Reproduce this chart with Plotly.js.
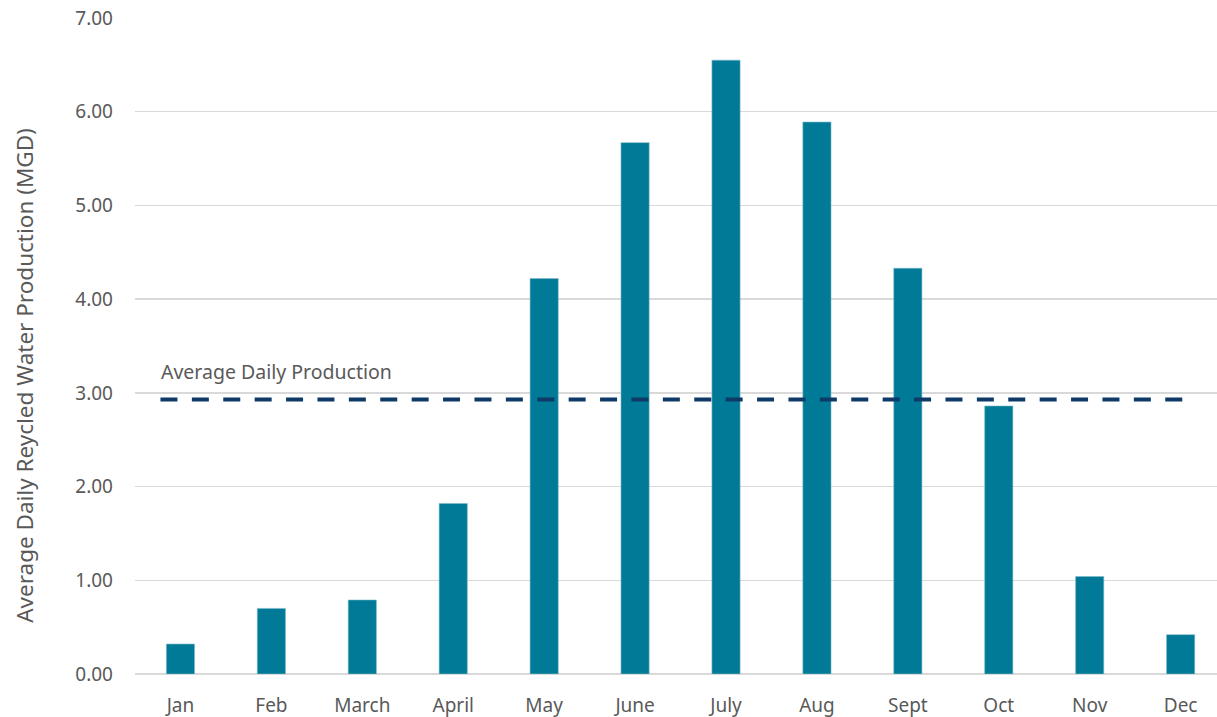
<!DOCTYPE html>
<html>
<head>
<meta charset="utf-8">
<script src="https://cdn.plot.ly/plotly-3.0.1.min.js"></script>
<style>
  html, body { margin: 0; padding: 0; background: #ffffff; }
  #chart { width: 1217px; height: 717px; }
</style>
</head>
<body>
<div id="chart"></div>
<script>
// Monthly average daily recycled water production (MGD)
const months = ["Jan", "Feb", "March", "April", "May", "June", "July", "Aug", "Sept", "Oct", "Nov", "Dec"];
const production = [0.32, 0.70, 0.79, 1.82, 4.22, 5.67, 6.55, 5.89, 4.33, 2.86, 1.04, 0.42];
const averageDaily = 2.93;
const yTickValues = [0, 1, 2, 3, 4, 5, 6, 7];
const yTickLabels = ["0.00", "1.00", "2.00", "3.00", "4.00", "5.00", "6.00", "7.00"];
const yTitle = "Average Daily Reycled Water Production (MGD)";
const averageLabel = "Average Daily Production";

const textColor = "#595959";
const fontFamily = "'Noto Sans', 'Open Sans', sans-serif";

const bars = {
  type: "bar",
  x: months,
  y: production,
  width: 0.31,
  marker: { color: "#007A96", line: { color: "#7fbccb", width: 0.6 } },
  hoverinfo: "x+y",
  showlegend: false
};

const layout = {
  width: 1217,
  height: 717,
  margin: { l: 135, r: 0, t: 18, b: 43 },
  paper_bgcolor: "#ffffff",
  plot_bgcolor: "#ffffff",
  font: { family: fontFamily, color: textColor, size: 19 },
  showlegend: false,
  xaxis: {
    type: "category",
    range: [-0.5, 11.4],
    showgrid: false,
    showline: false,
    zeroline: false,
    ticks: "",
    ticklabelstandoff: 18,
    tickfont: { size: 19, color: textColor, family: fontFamily }
  },
  yaxis: {
    range: [0, 7],
    tickvals: yTickValues,
    ticktext: yTickLabels,
    showgrid: true,
    gridcolor: "#d9d9d9",
    gridwidth: 1.5,
    zeroline: true,
    zerolinecolor: "#d9d9d9",
    zerolinewidth: 1.5,
    showline: false,
    ticks: "",
    ticklabelstandoff: 21,
    tickfont: { size: 19, color: textColor, family: fontFamily }
  },
  shapes: [{
    type: "line",
    xref: "x",
    yref: "y",
    x0: -0.22,
    x1: 11.02,
    y0: averageDaily,
    y1: averageDaily,
    line: { color: "#0f3a68", width: 4, dash: "17px,14.4px" },
    layer: "above"
  }],
  annotations: [
    {
      // vertical axis title, placed a little below the plot's midpoint
      xref: "paper",
      yref: "paper",
      x: -0.1017,
      y: 0.456,
      xanchor: "center",
      yanchor: "middle",
      textangle: -90,
      showarrow: false,
      text: yTitle,
      font: { size: 22.5, color: textColor, family: fontFamily }
    },
    {
      xref: "paper",
      yref: "y",
      x: 0.0225,
      y: averageDaily,
      xanchor: "left",
      yanchor: "bottom",
      yshift: 12,
      showarrow: false,
      text: averageLabel,
      font: { size: 19.5, color: textColor, family: fontFamily }
    }
  ]
};

Plotly.newPlot("chart", [bars], layout, { displayModeBar: false, staticPlot: true });
</script>
</body>
</html>
